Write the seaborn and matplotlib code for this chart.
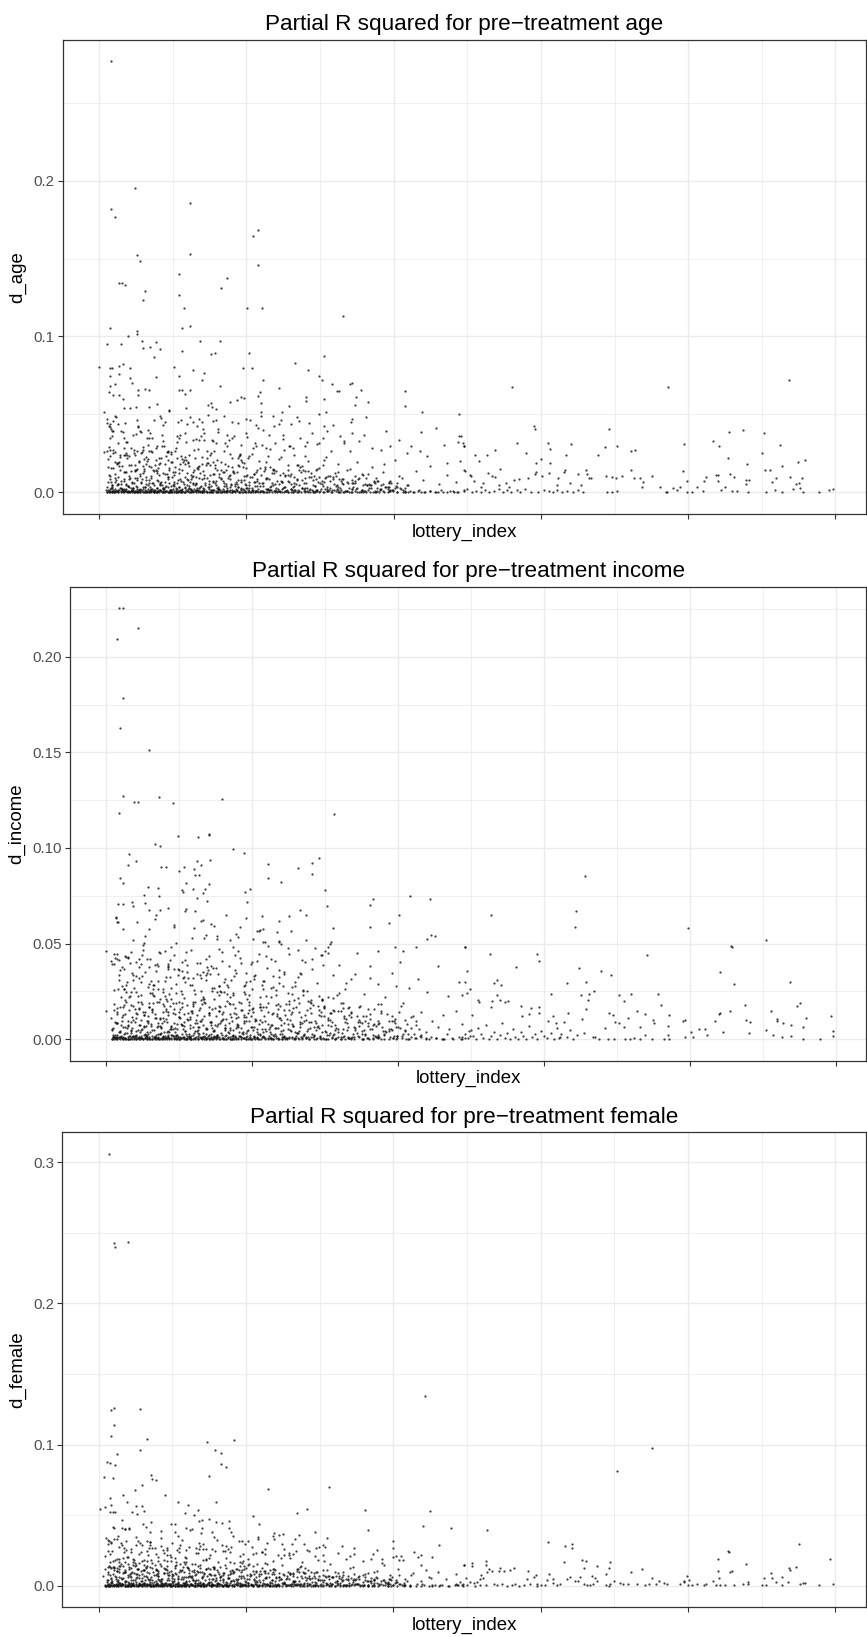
import numpy as np
import pandas as pd
import matplotlib
matplotlib.use("Agg")
import matplotlib.pyplot as plt
import seaborn as sns

# ---------------------------------------------------------------------------
# Data: lottery_index (0-1000 scale) and partial R^2 values in units of 1e-4
# ---------------------------------------------------------------------------

# Lottery indices shared by the crowded low-value part of every panel
cloud_index_a = [11,13,14,16,19,20,23,24,27,29,
    30,32,35,36,38,41,42,44,47,49,
    50,53,55,56,58,61,63,65,66,69,
    71,72,75,77,79,80,83,85,87,89,
    90,93,95,96,99,101,103,106,107,109,
    111,114,116,118,119,122,124,127,128,131,
    133,135,138,139,142,144,146,148,151,153,
    155,158,160,162,165,167,169,171,174,176,
    179,181,183,186,188,191,193,195,198,200,
    203,205,208,210,213,215,218,220,223,226,
    228,231,233,236,239,241,244,247,249,252,
    255,258,260,263,266,269,272,275,278,281,
    284,287,290,293,296,299,303,306,309,313,
    316,320,323,327,330,334,338,341,345,349,
    353,357,361,365,369,374,378,383,387,392,
    397,402,407,412,418,12,17,22,26,31,
    34,39,45,51,57,62,68,74,78,84,
    88,94,100,104,110,117,121,126,132,137,
    141,147,152,157,163,168,173,178,184,189,
    194,199,204,209,214,219,224,229,235,240,
    245,251,256,262,267,273,279,285,291,297,
    304,310,317,324,331,339,347,355,364,373,
    383,393,404,415,13,18,25,33,40,46,
    52,59,64,70,76,82,86,92,97,102,
    108,113,120,125,130,136,143,149,154,161,
    166,172,177,182,187,192,197,202,207,212,
    217,222,227,232,238,243,248,254,259,265,
    270,276,282,288,294,300,307,314,321,328,
    336,344,352,360,368,377,386,395,405,416,
    15,28,43,54,67,81,98,115,134,150]

cloud_index_b = [7,10,12,15,16,19,21,22,25,28,
    29,31,34,35,37,40,42,43,46,48,
    49,52,54,55,58,60,61,64,66,68,
    69,72,74,76,77,80,82,84,86,88,
    90,92,94,97,98,100,103,105,107,109,
    112,114,116,118,121,123,125,127,130,132,
    134,137,139,141,143,146,148,150,153,155,
    157,160,162,164,167,169,172,174,177,179,
    182,184,187,189,192,194,197,200,202,205,
    208,210,213,216,218,221,224,227,230,232,
    235,238,241,244,247,250,253,256,259,263,
    266,269,272,276,279,282,286,289,293,296,
    300,304,307,311,315,319,323,327,331,335,
    339,344,348,353,357,362,367,372,377,382,
    388,394,400,406,413,420,428,9,14,18,
    24,30,36,41,47,53,57,63,67,73,
    79,83,89,95,99,104,110,115,120,126,
    131,136,142,147,152,158,163,168,173,178,
    183,188,193,198,203,209,214,219,225,231,
    237,243,249,255,261,268,274,281,288,295,
    302,309,317,325,333,341,350,359,368,378,
    388,399,410,422,8,13,20,26,33,39,
    45,51,56,62,70,75,81,87,93,101,
    106,113,119,124,129,135,140,145,151,156,
    161,166,171,176,181,186,191,196,201,206,
    211,217,222,228,234,240,246,252,258,265,
    271,278,285,292,299,306,314,322,330,338,
    346,355,364,374,384,395,406,418,430,11,
    23,38,50,65,78,91,102,117,133,149,
    165,180,196,212,229,245,262,280,298,316,
    335,354,373,392,412,17,32,44,59,71,
    85,96,108,122,138,154,170,185,199,215,
    233,251,270,290,310,331,352,376,401,425,
    27,58,87,111,144,175,207,236,267,297,
    328,361,397,6,21,49,80,128,190,254]

cloud_index_c = [9,12,15,18,21,23,26,28,31,33,
    36,39,41,44,46,49,52,54,57,59,
    62,65,67,70,73,75,78,81,83,86,
    89,91,94,97,100,102,105,108,111,113,
    116,119,122,125,128,131,134,137,140,143,
    146,149,152,156,159,162,165,169,172,175,
    179,182,186,189,193,196,200,204,207,211,
    215,219,223,227,231,235,239,243,247,252,
    256,261,265,270,275,280,285,290,295,301,
    306,312,318,324,330,337,343,350,358,365,
    373,381,390,399,409,16,24,34,43,51,
    60,69,79,88,98,107,117,127,138,148,
    158,168,178,188,199,210,221,232,244,257,
    269,282,296,310,325,341,358,376,395,13,
    19,27,37,48,56,64,72,80,93,103,
    110,121,129,136,145,154,163,171,181,191,
    201,213,225,237,250,263,277,292,308,326,
    345,366,388,10,22,30,40,50,61,68,
    77,85,95,106,114,124,133,142,151,161,
    170,180,190,202,214,226,238,251,264,279,
    294,311,329,348,369,392,17,35,53,71,
    87,104,120,139,157,176,195,216,236,258,
    280,304,332,362,394,25,47,66,92,118,
    132,155,173,192,209,229,249,272,298,322,
    347,374,403,14,32,58,84,109,130,153]

base_index_a = [11,14,17,20,23,26,29,32,35,38,
    41,44,47,50,53,56,59,62,65,68,
    71,74,77,80,83,86,89,92,95,98,
    101,104,107,110,113,116,119,122,125,128,
    131,134,137,140,143,146,149,152,155,158,
    161,164,167,170,173,177,180,184,187,191,
    195,198,202,205,209,212,216,220,224,227,
    232,235,239,244,248,252,256,261,265,270,
    274,280,284,290,295,299,305,309,316,321,
    326,333,337,343,350,355,361,368,374,380,
    386,392,399,405,413,419,426,433,441,450,
    458,467,477,486,20,37,52,67,81,96,
    111,126,139,153,169,182,198,213,228,246,
    263,278,292,309,325,342,358,376,395,415,
    437,460,482,13,43,74,104,133,160,190]

base_index_b = [8,11,14,17,20,23,26,29,32,35,
    38,41,44,47,50,53,56,59,62,65,
    68,71,74,77,80,83,86,89,92,95,
    98,101,104,107,110,113,116,119,122,125,
    128,131,134,137,140,143,146,149,152,155,
    158,161,164,167,170,174,177,181,184,188,
    191,195,198,202,206,209,213,217,221,225,
    229,233,237,241,245,250,254,259,263,268,
    273,278,283,288,293,298,304,309,315,321,
    327,333,339,346,352,359,366,373,381,389,
    397,405,414,423,432,442,452,463,474,486,
    10,25,40,55,70,85,100,115,130,145,
    160,176,192,208,224,241,258,276,294,313,
    332,352,372,393,415,438,462,488,15,46,
    78,109,141,172,203,235,268,301,336,371]

# ---- age ----
age_up_x = [16,48,16,21,124,216,209,51,56,123,216,109,27,31,35,62,173,165,108,
    59,115,201,221,331,14,113,124,51,51,39,11,30,58,77,60,69,82,74,137,164,112,157,152,204,306,
    0,15,17,27,32,42,27,15,102,195,207,266,284,127,142,109,140,42,77,44,21,15,222,298,303,316,341,344,164,244,
    323,326,355,416,108,112,116,124,53,62,67,13,19,27,32,53,219,216,281,281,305,308,349,365,152,153,178,187,192,197,
    148,159,220,258,248,416,439,489,220,347,50,42,34,68,79,95,95,118,6]
age_up_y = [2765,1949,1820,1765,1853,1683,1645,1524,1481,1530,1457,1402,1346,1340,1331,1290,1374,1312,1265,
    1231,1180,1184,1180,1132,1056,1056,1068,1034,1013,1000,951,949,974,964,927,934,921,868,968,974,908,897,885,897,874,
    806,799,797,808,825,795,761,744,806,795,801,833,786,782,763,744,724,733,741,701,694,680,718,744,722,694,694,703,684,667,
    648,650,660,652,656,656,630,654,660,662,658,645,624,624,596,624,643,620,609,585,596,517,615,583,575,545,581,594,613,603,
    560,535,573,557,517,555,519,506,513,558,550,539,541,550,568,530,520,543,519]

age_mid_x = [21,11,15,19,23,35,51,53,75,82,86,90,111,119,128,133,136,141,148,159,
    169,181,188,199,205,213,220,236,247,261,269,271,285,299,306,317,344,342,363,389,437,458,489,488,
    14,18,19,10,6,26,38,46,57,65,66,78,93,106,117,128,143,154,162,173,
    183,193,201,211,223,231,239,250,259,273,280,289,296,304,315,327,333,343,353,360,
    371,383,395,407,418,423,436,445,468,472,495]
age_mid_y = [491,472,438,455,481,444,462,429,466,489,434,452,462,437,453,425,473,408,494,467,
    487,451,444,471,466,432,487,491,464,439,485,457,444,500,427,434,474,454,481,397,385,415,365,323,
    348,359,391,263,259,316,321,368,385,348,306,295,263,359,380,338,380,327,385,295,
    359,306,353,316,402,370,316,342,295,348,295,380,312,348,263,359,327,380,327,370,
    284,274,295,338,252,295,263,231,306,188,295]

age_low_x = [12,14,16,17,19,21,22,24,26,28,
    29,31,33,34,36,38,39,41,43,45,
    47,48,50,52,54,55,57,59,61,63,
    64,66,68,70,72,73,75,77,79,81,
    83,85,87,89,91,93,95,97,99,101,
    103,106,108,110,112,115,117,119,122,124,
    126,129,131,134,136,139,141,144,147,149,
    152,155,157,160,163,166,169,172,175,178,
    181,184,187,190,193,197,200,203,207,210,
    214,217,221,225,228,232,236,240,244,248,
    252,256,260,265,269,274,278,283,288,293,
    298,303,308,314,319,325,331,337,343,350,
    357,364,371,379,386,394,402,411,420,430,
    440,450,461,472,484,496,14,25,37,49,
    60,71,84,97,111,125,140,156,172,189]
age_low_y = [212,88,156,47,273,121,64,190,98,241,
    52,167,285,73,134,219,41,108,176,60,
    254,92,143,37,201,118,66,289,153,81,
    228,45,171,104,262,58,137,209,77,184,
    49,296,126,70,233,96,158,43,197,114,
    268,62,149,87,215,55,181,125,243,68,
    102,274,51,163,91,227,139,46,186,72,
    255,118,60,205,97,144,263,53,172,84,
    219,43,131,236,66,187,103,49,248,121,
    75,199,58,162,92,281,47,138,214,69,
    113,176,54,238,83,129,61,201,97,44,
    158,72,225,104,51,183,87,142,63,196,
    117,48,162,74,131,59,207,92,46,138,
    79,171,55,113,68,142,232,188,251,143,
    271,163,224,195,236,112,185,264,147,222]

age_floor_x = [10,12,13,15,16,18,19,21,22,24,
    25,27,28,30,31,33,34,36,37,39,
    40,42,43,45,46,48,49,51,52,54,
    55,57,58,60,61,63,64,66,67,69,
    70,72,73,75,76,78,79,81,82,84,
    85,87,88,90,91,93,94,96,97,99,
    100,102,104,105,107,108,110,112,113,115,
    117,118,120,122,123,125,127,129,130,132,
    134,136,137,139,141,143,145,147,149,150,
    152,154,156,158,160,162,164,166,168,170,
    172,174,176,178,181,183,185,187,190,192,
    194,196,199,201,204,206,208,211,213,216,
    218,221,223,226,229,231,234,237,240,242,
    245,248,251,254,257,260,263,266,269,272,
    276,279,282,286,289,293,296,300,304,307,
    311,315,319,323,327,331,335,339,344,348,
    353,357,362,367,372,377,382,387,393,398,
    404,410,416,422,428,435,442,449,456,464,
    472,480,488,496,18,33,47,62,78,95]
age_floor_y = [4,17,1,9,26,6,13,0,21,8,
    3,15,31,5,11,2,19,7,24,1,
    12,6,28,3,16,9,0,22,5,14,
    2,18,8,33,4,11,1,25,7,15,
    3,20,10,0,13,6,29,2,17,8,
    4,23,1,12,7,35,3,16,9,0,
    19,5,27,2,11,8,14,1,22,6,
    3,17,10,30,4,13,0,21,7,15,
    2,26,9,5,18,1,12,6,24,3,
    10,0,16,8,28,4,13,2,20,7,
    1,15,9,32,5,11,3,18,0,23,
    6,14,2,27,8,4,17,1,11,21,
    5,9,0,25,13,3,16,7,30,2,
    10,19,4,12,1,22,6,15,3,8,
    26,0,11,5,18,2,14,7,1,20,
    9,3,16,24,6,0,12,4,19,8,
    2,15,5,27,1,10,17,3,7,13,
    0,22,6,11,2,18,4,9,1,15,
    5,12,3,8,2,10,6,0,4,1]

age_cloud_y = [38,112,21,67,154,9,83,46,198,27,
    71,14,129,52,240,33,95,18,61,176,
    42,7,108,25,84,139,56,12,213,37,
    91,63,15,147,29,75,188,48,10,119,
    34,261,58,17,97,41,162,23,79,125,
    13,68,31,205,86,44,19,134,57,102,
    26,171,39,8,92,61,223,35,115,16,
    74,49,143,22,88,11,59,184,30,106,
    45,15,127,66,37,247,81,20,53,159,
    28,96,12,70,133,43,9,112,62,194,
    24,87,40,149,18,76,55,228,31,103,
    14,65,118,36,7,89,47,170,25,60,
    137,19,82,42,11,99,57,208,33,71,
    16,124,48,29,86,9,63,152,38,23,
    94,13,55,116,31,8,74,45,181,20,
    62,27,104,14,50,166,36,92,57,21,
    129,43,15,77,253,32,58,11,140,69,
    24,101,47,17,185,35,83,12,61,122,
    28,95,40,156,19,73,10,109,51,34,
    198,26,67,14,88,43,135,21,59,9,
    114,37,76,18,52,163,29,97,12,64,
    41,21,85,13,57,28,107,9,46,72,
    19,38,61,26,293,45,13,237,84,31,
    150,22,96,11,178,54,30,121,17,70,
    36,142,25,87,49,10,115,33,65,20,
    93,42,14,131,56,27,80,16,101,39,
    62,12,87,34,147,23,70,9,108,44,
    18,78,31,124,15,59,95,27,40,13,
    66,22,84,11,48,30,57,17,35,8,
    274,230,286,197,265,218,249,206,281,238]

age_cloud2_y = [17,64,108,31,193,8,52,141,23,87,
    45,12,177,69,29,238,95,14,58,122,
    36,203,77,19,146,48,9,113,62,27,
    184,41,88,16,131,55,222,33,74,11,
    99,47,168,24,63,7,151,38,85,19,
    265,51,15,119,72,34,196,43,10,93,
    57,138,21,81,13,104,46,231,28,67,
    12,156,39,90,18,127,54,8,74,36,
    111,22,61,178,30,95,14,49,144,25,
    70,17,102,38,59,9,83,28,46,15,
    65,21,37,11,29,405,182,349,136,264,
    168,378,123,296,258,451,229,107,363,187,
    315,132,247,173,384,119,302,161,437,142,
    176,324,148,397,131,266,109,94,72,428,
    253,171,322,137,391,184,347,159,206,132,
    371,188,143,335,176,459,121,317,164,243,
    115,298,152,426,127,287,141,108,96,84,
    63,51,38,444,262,397,231,376,213,349,
    285,367,142,326,198,481,155,339,173,408,
    129,351,167,219,146,288,122,273,99,135,
    86,107,74,61,48,33,391,243,418,267,
    329,284,196,452,173,338,161,414,147,295,
    233,176,318,92,67,436,274,401,258,322,
    345,193,366,210,287,231,368,142,319,103,
    71,58,42,418,389,262,475,348,224,337]

age_base_y = [5,1,9,3,12,0,7,2,14,4,
    1,8,3,11,0,6,2,13,5,1,
    10,3,0,7,15,2,5,9,1,4,
    12,0,6,3,8,1,11,4,0,7,
    2,13,5,1,9,3,0,6,14,2,
    8,1,4,10,0,5,2,12,7,3,
    1,9,0,6,4,11,2,8,0,5,
    13,3,1,7,0,10,4,2,15,6,
    1,8,3,0,11,5,2,9,1,7,
    4,0,12,3,6,1,10,2,5,0,
    8,3,14,1,6,0,4,9,2,11,
    0,5,7,3,1,10,4,0,13,2,
    6,9,1,3,0,8,5,12,2,4,
    1,7,0,10,3,6,2,0,9,5,
    1,3,0,11,7,4,2,14,1,6]

age_right_x = [561,772,937,590,592,692,855,875,903,834,
    842,925,568,610,613,641,687,704,794,538,
    527,510,516,580,634,677,722,728,901,949,
    959,854,880,594,600,613,494,496,491,490,
    544,497,793,723,904,911,928,661,631,633,
    611,650,662,528,534,537,503,505,563,570,
    582,594,592,602,623,665,668,688,697,702,
    710,726,734,739,751,762,824,821,812,838,
    841,841,857,862,879,883,878,919,914,939,
    955,951,947,952,789,798,850,844,860,866,
    881,690,697,703,770,771,785,798,805,820,
    906,918,928,942,956,978,992,997,495,500,
    506,512,518,524,530,536,543,548,554,559,
    567,572,579,586,596,604,611,616,622,628,
    635,644,651,657,509,522,518,543,556,552,
    622,640,654,737,780]
age_right_y = [675,675,722,427,410,406,389,402,382,331,
    295,303,314,316,278,308,291,295,308,274,
    241,237,201,254,239,237,265,269,256,197,
    209,220,180,190,212,188,316,300,360,203,
    150,137,139,141,147,147,167,145,132,145,
    122,120,120,124,103,96,113,103,81,85,
    94,128,118,103,90,92,90,103,98,90,
    103,92,90,68,107,38,96,71,36,113,
    109,71,118,100,81,79,53,94,68,100,
    90,60,53,26,38,73,38,15,9,9,
    4,6,4,9,0,2,17,0,0,11,
    0,13,2,21,0,4,17,21,17,21,
    4,11,6,17,4,11,21,4,15,6,
    17,2,21,6,4,17,9,2,17,4,
    11,2,17,4,71,60,38,49,38,60,
    49,60,49,38,28]

# ---- income ----
inc_up_x = [17,23,43,15,22,19,59,22,38,43,
    72,91,158,17,312,141,98,125,141,66,
    74,173,188,31,41,29,75,82,99,106,
    124,129,120,122,127,142,18,23,221,222,
    239,262,282,282,292,300,303,57,71,72,
    105,118,124,133,135,141,109,51,13,14,
    16,22,35,36,42,53,59,73,68,84,
    103,109,108,92,129,138,144,147,134,136,
    164,183,190,193,192,197,213,215,210,236,
    234,251,253,265,273,273,236,239,218,201,
    207,169,152,151,361,365,361,388,401,416,
    443,439,445,450,396,407,424,491,372,308,
    307,304,300,294,286,0,0]
inc_up_y = [2257,2253,2149,2093,1783,1629,1514,1272,1242,1242,
    1267,1235,1258,1185,1176,1072,1065,1056,1068,1019,
    1012,995,972,969,932,913,899,903,878,901,
    934,913,889,857,857,937,843,819,918,843,
    822,897,920,866,946,781,695,796,791,749,
    772,784,741,767,784,810,819,753,638,612,
    709,709,720,699,615,711,676,676,652,688,
    781,680,669,589,617,721,601,592,530,547,
    650,589,768,716,634,788,643,577,572,617,
    563,646,568,674,648,521,514,498,507,524,
    568,519,526,540,700,732,589,610,648,748,
    734,523,545,538,484,462,483,483,464,510,
    498,484,464,439,476,462,148]

inc_mid_x = [8,11,14,17,20,24,27,30,33,37,
    40,43,47,50,53,57,60,64,67,71,
    74,78,81,85,89,92,96,100,104,108,
    112,116,120,124,128,132,137,141,145,150,
    154,159,163,168,173,178,183,188,193,198,
    203,209,214,220,225,231,237,243,249,255,
    262,268,275,282,289,296,304,311,319,327,
    335,344,353,362,372,382,392,403,415,427,
    440,454,468,483,498,12,28,45,62,80,
    98,117,136,156,176,197,219,242,266,291]
inc_mid_y = [392,258,447,311,219,365,283,431,245,338,
    402,226,297,465,352,271,418,233,389,304,
    451,248,327,376,212,443,289,361,236,414,
    318,467,255,342,398,221,309,436,267,373,
    229,455,316,384,241,349,426,277,208,395,
    332,448,262,371,219,407,294,353,476,238,
    327,412,251,368,296,441,223,335,389,264,
    317,452,236,383,291,222,348,405,269,316,
    245,381,228,297,262,425,301,378,244,459,
    336,282,419,253,364,307,437,276,346,228]

inc_low_x = [6,9,11,13,15,17,19,21,23,25,
    27,29,31,33,35,37,39,41,43,45,
    47,49,51,53,55,57,59,61,63,65,
    67,69,71,73,75,77,79,81,83,85,
    87,89,91,93,95,97,99,101,104,106,
    108,110,112,115,117,119,121,124,126,128,
    131,133,135,138,140,143,145,147,150,152,
    155,157,160,162,165,168,170,173,176,178,
    181,184,187,189,192,195,198,201,204,207,
    210,213,216,219,222,226,229,232,235,239,
    242,246,249,253,256,260,264,267,271,275,
    279,283,287,291,295,299,304,308,312,317,
    321,326,331,336,341,346,351,356,362,367,
    373,379,385,391,397,404,410,417,424,431,
    438,446,454,462,470,479,488,497,15,24,
    34,44,54,64,74,84,94,104,114,124,
    134,144,154,164,174,184,194,204,214,224,
    234,244,254,264,274,284,294,304,314,324]
inc_low_y = [112,57,184,83,141,36,167,95,128,62,
    193,74,151,43,118,176,88,135,51,162,
    99,187,67,143,38,121,170,80,154,46,
    131,197,71,109,58,182,93,147,40,125,
    173,64,139,86,189,52,116,158,77,134,
    44,179,101,61,148,195,85,127,49,166,
    107,72,188,54,137,91,160,41,122,69,
    176,97,145,58,199,83,130,47,164,111,
    75,154,39,128,93,181,63,142,106,53,
    170,88,124,45,191,76,138,60,157,102,
    49,185,81,133,67,171,42,119,95,152,
    58,177,87,126,40,163,99,71,146,55,
    188,110,64,139,48,168,84,121,56,159,
    79,43,134,96,62,174,51,115,73,141,
    38,98,66,127,53,150,81,44,131,178,
    89,156,69,192,104,143,61,167,117,85,
    196,72,149,108,183,57,136,94,171,63,
    124,155,79,188,101,66,142,113,50,161]

inc_floor_x = [7,9,11,12,14,15,17,18,20,21,
    23,24,26,27,29,30,32,33,35,36,
    38,39,41,42,44,45,47,48,50,51,
    53,54,56,57,59,60,62,63,65,66,
    68,69,71,72,74,75,77,78,80,81,
    83,85,86,88,89,91,93,94,96,97,
    99,101,102,104,106,107,109,111,113,114,
    116,118,120,121,123,125,127,129,131,132,
    134,136,138,140,142,144,146,148,150,152,
    154,156,158,160,162,164,167,169,171,173,
    175,178,180,182,185,187,189,192,194,197,
    199,202,204,207,210,212,215,218,221,223,
    226,229,232,235,238,241,244,247,251,254,
    257,260,264,267,271,274,278,281,285,289,
    293,297,301,305,309,313,317,322,326,331,
    335,340,345,350,355,360,365,370,376,381,
    387,393,399,405,411,418,424,431,438,445,
    452,460,467,475,483,491,499,13,22,31,
    40,49,58,67,76,85,95,105,115,126,
    137,148,160,172,184,197,211,226,242,259]
inc_floor_y = [3,14,0,8,22,5,11,1,17,6,
    2,26,9,4,13,0,19,7,3,15,
    1,10,24,5,12,2,18,8,0,21,
    6,13,3,28,9,1,16,4,11,0,
    20,7,14,2,25,5,10,1,17,8,
    3,12,0,23,6,15,2,9,19,4,
    1,13,7,27,3,10,0,18,5,12,
    2,21,8,1,14,4,29,6,0,11,
    16,3,9,22,1,7,13,5,0,18,
    10,2,24,6,15,1,8,12,3,20,
    0,9,5,16,2,27,7,11,1,14,
    4,19,0,8,23,3,12,6,1,17,
    9,2,15,5,26,0,10,4,13,7,
    1,18,3,11,21,6,0,14,2,9,
    16,5,1,24,8,3,12,0,19,6,
    2,10,15,4,28,1,7,13,3,20,
    0,9,5,17,2,11,6,22,1,14,
    8,3,25,0,12,5,18,2,9,1,
    16,7,4,13,0,21,6,10,3,15,
    2,19,8,1,11,4,26,7,12,5]

inc_cloud_y = [48,152,23,87,261,11,119,64,205,32,
    97,17,178,58,312,41,134,8,76,229,
    53,126,19,93,168,37,71,284,14,112,
    62,197,29,85,143,9,104,45,236,67,
    21,158,39,81,13,117,356,55,92,27,
    139,72,16,187,44,101,6,66,251,34,
    124,57,18,171,89,42,213,12,78,147,
    31,108,61,24,274,50,93,15,133,70,
    36,191,9,84,118,47,22,160,63,101,
    28,221,54,13,96,142,38,74,19,181,
    59,111,26,87,7,152,44,69,298,33,
    81,17,129,52,166,25,98,62,11,203,
    41,73,138,20,57,244,31,90,14,115,
    66,35,176,48,8,105,79,23,150,42,
    95,16,62,189,30,124,54,10,83,39,
    264,71,18,113,46,27,93,158,12,67,
    38,200,55,21,142,77,9,106,34,63,
    184,25,90,49,14,131,72,31,231,58,
    16,98,43,121,8,80,37,167,26,61,
    112,19,53,145,33,86,11,205,47,74,
    23,92,39,13,128,57,29,84,18,66,
    41,15,103,27,56,10,74,35,48,159,
    318,63,19,142,87,34,209,52,16,110,
    71,28,175,45,94,13,138,60,24,85,
    246,37,118,17,66,152,31,97,49,12,
    185,54,79,22,131,41,8,102,36,63,
    27,90,15,57,121,33,74,11,46,29,
    68,20,52,14,39,83,25,61,17,394,
    171,268,145,227,109,190,253,136,209,166,
    238,118,197,152,272,127,214,88,173,231,
    144,95,186,121,78,337,226,421,287,262,
    365,244,302,193,347,281,223,399,262,305,
    256,198,233,176,214,161,120,185,143,98,
    428,376,413,352,384,331,407,364,341,389,
    296,318,277,411,379,443,307,335,282,271]

inc_cloud2_y = [23,88,164,41,276,12,133,57,219,35,
    102,18,247,76,39,331,125,21,84,189,
    47,286,109,27,211,63,14,158,92,38,
    267,55,131,22,194,79,318,44,107,16,
    148,66,239,33,95,10,213,52,126,29,
    372,73,20,169,103,48,285,61,15,137,
    82,196,31,118,19,152,65,337,40,99,
    17,228,56,131,26,183,77,12,108,51,
    162,32,89,256,43,139,21,71,207,37,
    101,25,149,54,86,13,121,41,67,22,
    94,30,53,16,42,612,263,458,197,505,
    241,394,176,483,367,218,529,155,376,270,
    408,190,551,248,403,171,489,232,339,204,
    253,421,212,584,188,339,157,136,104,636,
    362,245,518,196,419,263,454,228,597,189,
    388,671,206,336,252,471,174,311,535,349,
    166,284,418,324,183,468,202,155,138,121,
    91,73,55,447,577,425,331,494,306,357,
    265,382,504,323,284,401,622,342,248,297,
    185,459,239,313,509,268,175,448,142,193,
    123,154,106,88,69,48,416,348,538,382,
    327,406,581,361,248,440,230,306,511,279,
    191,452,169,132,96,433,392,628,369,318,
    350,276,480,300,567,330,240,403,170,147,
    102,83,60,421,398,574,393,454,320,339]

inc_base_y = [3,10,0,6,13,1,8,4,0,11,
    5,2,14,7,0,9,3,12,1,6,
    0,8,4,15,2,10,5,0,7,3,
    11,1,6,9,0,13,4,2,8,1,
    12,5,0,7,3,10,1,14,6,2,
    9,0,4,11,1,7,3,0,13,5,
    2,8,1,10,6,0,12,3,7,2,
    0,9,4,14,1,5,11,0,6,3,
    8,2,13,0,7,4,1,10,5,2,
    0,9,3,12,1,6,0,8,4,11,
    2,7,0,5,13,1,9,3,6,0,
    10,4,1,8,2,12,0,5,7,3,
    1,11,4,0,9,2,6,14,1,3,
    7,0,10,5,2,8,1,4,12,0,
    6,3,9,1,11,0,5,2,7,13]

inc_right_x = [656,527,644,643,798,904,856,858,491,526,
    591,593,562,741,842,860,937,648,678,692,
    631,658,668,662,660,658,651,610,703,719,
    710,756,761,492,495,494,488,532,535,541,
    535,509,511,529,527,539,547,551,501,569,
    570,580,582,593,593,613,617,605,633,652,
    689,694,698,703,710,715,728,732,739,751,
    750,771,770,790,794,813,821,824,835,840,
    841,855,845,875,877,883,881,911,919,919,
    928,939,947,951,959,955,993,996,997,904,
    914,927,939,955,978,794,805,802,765,772,
    770,731,748,739,711,718,724,696,688,675,
    667,670,640,635,631,624,620,488,492,496,
    500,503,507,510,514,517,520,524,528,531,
    535,539,542,546,549,553,557,560,564,568,
    571,575,579,583,587,591,596,600,604,609,
    614,618,622,627,645,655,684]
inc_right_y = [856,650,673,587,582,521,486,484,483,446,
    448,410,376,439,352,288,300,375,355,338,
    294,300,254,237,204,159,232,239,230,235,
    199,239,179,298,355,242,232,296,308,286,
    233,206,195,200,171,204,195,200,125,174,
    124,132,164,169,139,120,84,96,138,105,
    139,129,89,85,64,113,146,66,131,84,
    103,129,70,96,103,56,52,24,96,131,
    138,150,38,178,101,92,33,148,108,94,
    87,77,176,188,110,64,124,44,19,47,
    23,12,17,2,2,10,10,40,0,0,
    23,0,0,21,0,0,7,2,2,0,
    14,10,0,51,14,28,5,12,30,5,
    48,18,2,60,25,9,72,0,15,40,
    4,22,85,8,31,1,55,13,3,38,
    19,0,68,10,27,2,45,16,6,33,
    1,58,12,90,20,35,60]

# ---- female ----
fem_up_x = [14,20,22,39,443,16,21,56,21,16,
    66,147,184,56,25,158,166,166,172,11,
    15,22,7,19,71,72,77,59,49,149,
    90,33,230,312,107,121,159,38,15,51,
    58,17,15,2,9,19,22,45,52,62,
    135,117,129,361,282,269,449,209,365,440,
    478,294,217,149,159,167,177,32,36,41,
    60,64,71,69,98,103,103,119,127,140,
    136,140,177,179,182,195,203,216,238,250,
    238,272,279,262,268,295,299,307,330,347,
    377,385,370,399,399,403,410,407,433,438,
    453,462,496,444,438,19,21,32,35,41]
fem_up_y = [3057,2425,2401,2434,1342,1243,1257,1253,1139,1064,
    1040,1019,1036,960,937,965,939,861,845,878,
    873,854,771,764,786,757,748,717,682,781,
    644,642,686,701,592,576,594,597,623,569,
    569,571,526,545,557,526,524,526,512,528,
    538,517,500,535,545,514,528,493,399,422,
    413,385,436,474,455,443,460,467,403,408,
    436,420,453,385,441,441,382,413,403,408,
    462,467,410,385,356,321,321,330,373,368,
    330,361,300,295,248,267,276,276,283,229,
    255,191,191,321,267,215,215,186,208,219,
    208,288,149,116,149,420,408,410,403,401]

fem_mid_x = [8,12,15,18,21,24,27,30,34,37,
    40,44,47,51,54,58,61,65,69,72,
    76,80,84,88,92,96,100,105,109,113,
    118,122,127,132,136,141,146,151,157,162,
    167,173,178,184,190,196,202,208,215,222,
    229,236,243,251,259,267,276,285,294,304,
    314,325,336,347,359,372,385,399,413,428,
    26,48,70,93,117,142,168,196,226,258]
fem_mid_y = [214,297,168,251,332,189,276,155,238,319,
    203,264,171,345,226,293,182,248,312,160,
    271,207,339,185,256,222,301,167,243,328,
    195,274,158,230,306,184,259,217,349,172,
    288,201,243,163,318,229,190,275,154,241,
    306,178,222,262,196,335,169,248,211,287,
    158,236,192,271,177,224,163,205,186,240,
    357,183,312,268,202,295,247,178,263,219]

fem_low_x = [6,9,11,13,15,17,19,21,23,25,
    27,29,31,33,35,37,39,41,43,45,
    47,49,51,53,55,57,59,62,64,66,
    68,70,72,75,77,79,81,84,86,88,
    91,93,95,98,100,103,105,108,110,113,
    115,118,121,123,126,129,132,135,137,140,
    143,146,149,152,156,159,162,165,169,172,
    175,179,182,186,190,193,197,201,205,209,
    213,217,221,226,230,235,239,244,249,254,
    259,264,269,275,280,286,292,298,304,310,
    317,324,331,338,345,353,361,369,378,387,
    396,406,416,426,437,448,460,472,485,498,
    14,20,28,36,44,52,61,70,80,90,
    101,112,124,137,150,164,178,193,209,226,
    244,263,283,304,326,349,373,398,424,451,
    16,24,33,42,53,65,78,92,107,123,
    140,158,177,197,218,240,263,287,312,338]
fem_low_y = [72,118,41,96,137,58,84,125,46,103,
    67,142,53,89,114,35,78,131,61,99,
    147,44,86,121,57,108,38,74,133,62,
    95,49,128,81,36,113,69,144,52,91,
    123,40,77,105,59,138,83,47,116,66,
    98,34,129,71,55,110,87,43,146,63,
    92,119,48,80,135,57,101,39,75,124,
    60,89,42,117,68,97,140,51,82,106,
    37,73,128,56,94,45,112,65,149,50,
    86,33,104,70,126,54,93,41,79,115,
    62,38,99,71,132,48,85,57,108,44,
    76,121,52,90,36,67,101,46,83,58,
    139,111,145,98,127,87,116,134,95,120,
    78,103,69,126,88,61,107,74,143,92,
    66,85,54,112,72,47,98,63,81,56,
    130,107,141,82,119,96,75,113,68,90,
    102,79,57,118,86,64,93,52,71,45]

fem_floor_x = [10,12,14,15,17,18,20,21,23,24,
    26,27,29,30,32,33,35,36,38,39,
    41,42,44,45,47,48,50,51,53,54,
    56,57,59,60,62,63,65,66,68,69,
    71,72,74,75,77,78,80,82,83,85,
    86,88,90,91,93,95,96,98,100,101,
    103,105,107,108,110,112,114,116,117,119,
    121,123,125,127,129,131,133,135,137,139,
    141,143,145,147,150,152,154,156,159,161,
    163,166,168,171,173,176,178,181,183,186,
    189,191,194,197,200,203,206,209,212,215,
    218,221,225,228,231,235,238,242,245,249,
    253,257,261,265,269,273,277,282,286,291,
    295,300,305,310,315,320,325,331,336,342,
    348,354,360,366,373,379,386,393,400,408,
    415,423,431,439,448,457,466,475,485,495,
    19,28,37,46,55,64,73,84,94,106,
    118,130,142,155,169,184,199,216,233,252,
    272,293,316,340,366,393,422,452,483,13,
    25,43,61,79,97,115,134,153,174,196]
fem_floor_y = [2,11,0,6,18,3,9,1,14,5,
    0,21,7,2,12,4,16,0,8,3,
    13,1,19,5,10,0,15,6,2,22,
    4,9,1,13,7,0,17,3,11,5,
    1,24,8,2,14,0,10,6,3,18,
    1,12,4,9,0,16,5,2,20,7,
    3,11,0,14,6,1,19,8,2,12,
    4,0,15,7,3,23,1,10,5,0,
    13,2,8,17,4,1,11,6,0,21,
    3,9,2,14,5,0,18,7,1,12,
    4,16,0,9,3,22,6,1,13,2,
    8,0,15,5,3,19,1,10,7,0,
    12,4,2,17,6,0,9,3,14,1,
    20,5,0,11,7,2,16,4,1,8,
    13,0,6,3,18,2,10,1,5,12,
    0,7,3,15,1,9,4,0,11,2,
    6,14,1,9,4,17,2,7,12,0,
    5,19,3,8,1,13,6,0,10,22,
    4,1,15,7,2,11,0,9,5,3,
    16,1,8,12,0,6,20,2,10,4]

fem_cloud_y = [25,84,12,47,131,5,62,33,168,18,
    54,9,97,38,205,22,71,11,44,142,
    29,4,81,16,59,113,40,8,176,26,
    67,45,10,118,20,52,153,35,6,91,
    24,221,41,12,73,30,129,15,57,96,
    9,49,21,172,63,32,13,104,42,78,
    17,139,28,5,68,44,188,23,86,11,
    53,36,115,14,64,7,42,151,20,80,
    33,10,99,47,26,214,60,13,38,127,
    19,72,8,51,107,31,6,87,45,163,
    16,64,29,122,12,55,39,196,22,77,
    9,47,93,25,4,66,34,140,17,43,
    110,13,59,30,7,74,41,179,23,51,
    11,98,35,20,63,6,46,125,27,15,
    70,8,40,92,21,5,55,32,150,14,
    45,19,81,9,36,135,25,68,41,14,
    102,30,10,56,238,22,42,7,115,50,
    16,77,33,11,157,24,61,8,44,96,
    19,71,28,128,13,53,6,83,37,23,
    166,17,48,9,65,31,108,14,42,5,
    89,26,55,12,38,134,20,73,8,47,
    29,14,62,9,41,19,82,6,33,52,
    13,27,44,18,246,32,9,201,62,21,
    120,15,71,7,148,39,21,94,11,50,
    25,113,17,64,35,6,88,23,47,13,
    69,30,9,105,40,18,58,10,76,27,
    45,8,64,24,119,15,50,5,83,31,
    12,57,22,97,10,42,71,19,28,9,
    48,15,61,7,34,21,41,11,25,4,
    228,189,244,162,219,178,205,170,236,197]

fem_cloud2_y = [9,41,77,18,133,4,30,96,13,55,
    26,7,118,43,16,164,61,8,35,82,
    21,141,49,11,97,28,5,74,38,15,
    126,24,57,9,88,33,152,19,46,6,
    63,27,112,14,39,3,101,22,54,11,
    183,30,8,79,45,19,134,25,6,60,
    34,92,12,51,7,69,27,159,16,42,
    6,105,23,59,10,85,32,4,48,20,
    73,13,38,121,17,64,8,29,98,14,
    45,9,67,22,37,5,55,16,28,8,
    41,12,21,6,17,314,126,272,93,148,
    115,293,84,236,178,354,159,74,282,130,
    249,91,170,119,296,82,239,111,364,98,
    121,255,102,337,90,214,75,65,50,328,
    174,118,253,94,303,126,270,109,143,91,
    287,130,99,262,121,379,84,250,113,168,
    80,237,105,356,88,229,97,74,66,58,
    44,35,26,338,181,306,159,290,147,272,
    227,284,98,256,137,393,107,265,119,323,
    89,273,115,151,101,229,84,220,68,93,
    59,74,51,42,33,23,301,168,322,184,
    258,196,135,374,119,264,111,348,101,234,
    92,221,81,63,46,333,189,316,178,253,
    269,133,284,144,228,159,296,97,182,71,
    49,40,29,319,291,180,388,270,154,263]

fem_base_y = [1,7,0,4,10,2,0,6,12,3,
    0,5,1,9,3,0,8,2,11,4,
    6,0,3,13,1,7,2,0,9,5,
    1,10,0,4,7,2,12,0,3,6,
    9,1,5,0,11,3,2,8,0,4,
    7,0,12,2,5,1,9,3,0,6,
    0,10,4,1,8,2,13,0,6,3,
    5,1,9,0,3,11,2,7,0,4,
    12,0,6,2,8,1,4,10,0,3,
    1,7,0,5,12,2,9,0,4,6,
    3,0,8,1,11,4,0,6,2,10,
    0,5,2,13,1,7,3,0,9,4,
    8,1,0,6,12,2,4,0,7,3,
    0,11,5,1,8,0,3,10,2,6,
    4,0,9,2,7,1,13,0,5,3]

fem_right_x = [751,703,527,610,633,643,643,951,854,856,
    841,993,496,506,507,525,526,631,656,662,
    659,677,694,692,689,738,723,878,937,939,
    947,912,903,914,927,841,842,857,859,881,
    881,834,799,801,794,956,959,978,997,936,
    952,919,928,906,901,875,863,850,844,838,
    824,821,812,806,800,789,794,772,768,761,
    751,756,747,741,731,718,711,707,699,694,
    692,688,677,669,674,671,653,651,647,659,
    663,667,640,635,626,622,616,611,616,609,
    601,595,591,593,583,582,563,558,550,544,
    543,534,530,527,519,522,518,509,513,504,
    495,491,493,500,511,518,525,536,540,547,
    554,561,565,570,577,586,595,606]
fem_right_y = [979,814,399,314,283,300,267,297,248,241,
    193,193,146,163,139,177,146,170,184,177,
    130,142,172,125,87,118,101,158,125,111,
    137,92,57,54,61,109,59,99,109,31,
    17,38,71,45,35,21,21,5,14,26,
    12,31,5,5,5,17,7,5,7,5,
    14,7,14,7,5,14,26,14,21,35,
    57,14,14,9,12,12,12,24,38,14,
    2,7,38,71,59,12,64,38,38,12,
    7,5,61,52,17,9,19,85,50,42,
    5,14,66,78,109,50,125,116,109,125,
    109,109,118,97,78,54,52,19,26,28,
    17,31,7,7,2,7,5,12,7,12,
    2,7,12,2,7,12,2,7]


def panel_frame(*parts):
    xs, ys = [], []
    for x, y in parts:
        xs.extend(x)
        ys.extend(y)
    return pd.DataFrame({"lottery_index": xs, "value": np.asarray(ys, dtype=float) / 1e4})


panels = [
    dict(df=panel_frame((age_up_x, age_up_y), (age_mid_x, age_mid_y), (age_low_x, age_low_y),
                        (age_floor_x, age_floor_y), (cloud_index_a, age_cloud_y),
                        (cloud_index_c, age_cloud2_y), (base_index_a, age_base_y),
                        (age_right_x, age_right_y)),
         title="Partial R squared for pre\u2212treatment age", ylabel="d_age",
         rect=[0.07232, 0.68601, 0.92653, 0.28974], ylim=(-0.01382, 0.2903),
         yticks=[0.0, 0.1, 0.2], yfmt="{:.1f}", yminor=[0.05, 0.15, 0.25]),
    dict(df=panel_frame((inc_up_x, inc_up_y), (inc_mid_x, inc_mid_y), (inc_low_x, inc_low_y),
                        (inc_floor_x, inc_floor_y), (cloud_index_b, inc_cloud_y),
                        (cloud_index_c, inc_cloud2_y), (base_index_b, inc_base_y),
                        (inc_right_x, inc_right_y)),
         title="Partial R squared for pre\u2212treatment income", ylabel="d_income",
         rect=[0.08108, 0.35205, 0.91777, 0.28955], ylim=(-0.0112, 0.2366),
         yticks=[0.0, 0.05, 0.10, 0.15, 0.20], yfmt="{:.2f}",
         yminor=[0.025, 0.075, 0.125, 0.175, 0.225]),
    dict(df=panel_frame((fem_up_x, fem_up_y), (fem_mid_x, fem_mid_y), (fem_low_x, fem_low_y),
                        (fem_floor_x, fem_floor_y), (cloud_index_a, fem_cloud_y),
                        (cloud_index_c, fem_cloud2_y), (base_index_b, fem_base_y),
                        (fem_right_x, fem_right_y)),
         title="Partial R squared for pre\u2212treatment female", ylabel="d_female",
         rect=[0.07186, 0.01833, 0.92699, 0.28998], ylim=(-0.01486, 0.3211),
         yticks=[0.0, 0.1, 0.2, 0.3], yfmt="{:.1f}", yminor=[0.05, 0.15, 0.25]),
]

sns.set_theme(style="white")
plt.rcParams["font.family"] = ["Liberation Sans", "DejaVu Sans"]

fig = plt.figure(figsize=(8.67, 16.37), dpi=100)
fig.patch.set_facecolor("white")

grid_col = "#EBEBEB"
frame_col = "#333333"

for p in panels:
    ax = fig.add_axes(p["rect"])
    ax.set_facecolor("white")
    ax.set_axisbelow(True)
    sns.scatterplot(data=p["df"], x="lottery_index", y="value", ax=ax,
                    s=2.6, color="#111111", alpha=0.8, linewidth=0, legend=False)
    ax.set_xlim(-49.6, 1041.6)
    ax.set_ylim(*p["ylim"])

    ax.set_xticks([0, 200, 400, 600, 800, 1000])
    ax.set_xticklabels([""] * 6)
    ax.set_xticks([100, 300, 500, 700, 900], minor=True)
    ax.set_yticks(p["yticks"])
    ax.set_yticklabels([p["yfmt"].format(v) for v in p["yticks"]])
    ax.set_yticks(p["yminor"], minor=True)

    ax.grid(which="major", color=grid_col, linewidth=1.0)
    ax.grid(which="minor", color=grid_col, linewidth=0.55)
    ax.tick_params(which="major", length=3.3, width=0.8, color=frame_col,
                   labelsize=10.8, labelcolor="#4D4D4D", pad=2.5,
                   bottom=True, left=True)
    ax.tick_params(which="minor", length=0)
    for sp in ax.spines.values():
        sp.set_color(frame_col)
        sp.set_linewidth(0.9)

    ax.set_title(p["title"], fontsize=16.2, color="black", pad=7)
    ax.set_xlabel("lottery_index", fontsize=13.4, color="black", labelpad=1)
    ax.set_ylabel(p["ylabel"], fontsize=13.4, color="black", labelpad=5)

fig.savefig("out.png", dpi=100, facecolor="white")
